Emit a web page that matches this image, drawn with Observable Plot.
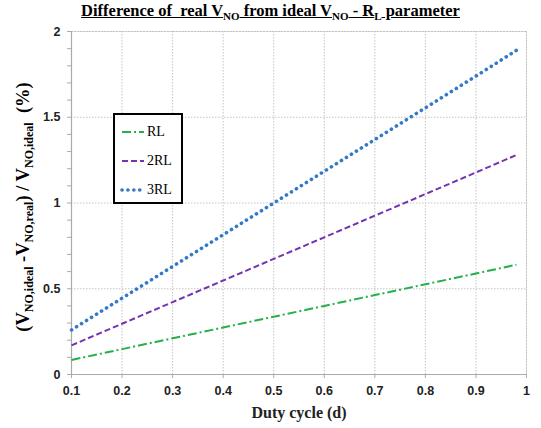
<!DOCTYPE html>
<html><head><meta charset="utf-8">
<script src="https://cdn.jsdelivr.net/npm/d3@7"></script>
<script src="https://cdn.jsdelivr.net/npm/@observablehq/plot@0.6"></script>
<style>
body{margin:0;background:#fff;}
#wrap{position:relative;width:541px;height:428px;overflow:hidden;}
#title{position:absolute;left:0;width:541px;top:1px;text-align:center;font:bold 16.5px "Liberation Serif",serif;text-decoration:underline;white-space:nowrap;padding-left:0px;}
#title sub{font-size:11px;}
#ylab{position:absolute;left:25px;top:207px;transform:translate(-50%,-50%) rotate(-90deg);font:bold 18.5px "Liberation Serif",serif;white-space:nowrap;}
#ylab sub{font-size:12px;}
#legend{position:absolute;left:113px;top:113px;width:66px;height:87px;border:2px solid #000;background:#fff;font:14px "Liberation Serif",serif;}
.li{position:absolute;left:5px;display:flex;align-items:center;}
.li svg{margin-right:3px;}
</style></head>
<body><div id="wrap">
<div id="title">Difference of&nbsp; real V<sub>NO</sub> from ideal V<sub>NO</sub> - R<sub>L</sub> parameter</div>
<div id="ylab">(V<sub>NO,ideal</sub> -V<sub>NO,real</sub>) / V<sub>NO,ideal</sub>&nbsp; (%)</div>
</div>
<script>
const duty = [0.1,0.2,0.3,0.4,0.5,0.6,0.7,0.8,0.9,0.98];
const rl   = [0.085,0.148,0.211,0.274,0.337,0.400,0.463,0.526,0.589,0.640];
const rl2  = [0.170,0.296,0.422,0.548,0.674,0.800,0.926,1.052,1.178,1.280];
const rl3  = [0.260,0.445,0.630,0.815,1.000,1.185,1.370,1.555,1.740,1.890];
const seriesNames = ["RL","2RL","3RL"];
const xTicks = [0.1,0.2,0.3,0.4,0.5,0.6,0.7,0.8,0.9,1];
const xTickLabels = ["0.1","0.2","0.3","0.4","0.5","0.6","0.7","0.8","0.9","1"];
const yTicks = [0,0.5,1,1.5,2];
const yTickLabels = ["0","0.5","1","1.5","2"];
const yMinor = d3.range(0,21).map(i=>i/10);

const styles = {
  "RL": {stroke:"#25b04a", dash:"9,3,2,3", width:2, cap:"butt"},
  "2RL": {stroke:"#7434b0", dash:"6,3", width:2, cap:"butt"},
  "3RL": {stroke:"#3479c6", dash:"0.1,5.8", width:3.6, cap:"round"}
};
const vals = {"RL":rl,"2RL":rl2,"3RL":rl3};
const data = seriesNames.map(s => duty.map((d,i)=>({d, v: vals[s][i], s})));

const gridC = "#c4c4c4";
const tickFont = {fontWeight:"bold", fontSize:12.5, fill:"#222", fontFamily:"Liberation Sans, Arial, sans-serif", label:null};

const chart = Plot.plot({
  width:541, height:428,
  marginTop:31, marginBottom:54, marginLeft:71, marginRight:15,
  x:{domain:[0.1,1]},
  y:{domain:[0,2]},
  style:{background:"transparent", overflow:"visible"},
  marks: [
    Plot.gridX(xTicks, {stroke:gridC, strokeOpacity:1, strokeDasharray:"1.5,1.5", strokeWidth:1}),
    Plot.gridY(yTicks, {stroke:gridC, strokeOpacity:1, strokeDasharray:"1.5,1.5", strokeWidth:1}),
    Plot.frame({anchor:"top", stroke:gridC, strokeDasharray:"1.5,1.5"}),
    Plot.frame({anchor:"right", stroke:gridC, strokeDasharray:"1.5,1.5"}),
    Plot.axisY(yMinor, {tickSize:4, stroke:"#aaa", tickFormat:()=>"", label:null}),
    Plot.axisX(xTicks, {tickSize:4, stroke:"#aaa", tickPadding:8, tickFormat:d=>xTickLabels[xTicks.indexOf(d)], ...tickFont}),
    Plot.axisY(yTicks, {tickSize:0, tickPadding:11, tickFormat:d=>yTickLabels[yTicks.indexOf(d)], ...tickFont}),
    Plot.ruleX([0.1], {stroke:"#aaa", strokeWidth:1.2}),
    Plot.ruleY([0], {stroke:"#aaa", strokeWidth:1.2}),
    ...data.map(arr => {
      const st = styles[arr[0].s];
      return Plot.line(arr, {x:"d", y:"v", stroke:st.stroke, strokeWidth:st.width, strokeDasharray:st.dash, strokeLinecap:st.cap});
    }),
    Plot.text(["Duty cycle (d)"], {frameAnchor:"bottom", dy:43, fontWeight:"bold", fontSize:16, fontFamily:"Liberation Serif, serif", fill:"#222"})
  ]
});
document.getElementById("wrap").prepend(chart);
chart.style.position="absolute"; chart.style.left="0"; chart.style.top="0";

const leg = document.createElement("div");
leg.id = "legend";
const ys = [17, 46, 75];
seriesNames.forEach((s,i)=>{
  const st = styles[s];
  const item = document.createElement("div");
  item.className="li"; item.style.top=(ys[i]-9)+"px";
  item.innerHTML = `<svg width="24" height="18"><line x1="2" y1="9" x2="24" y2="9" stroke="${st.stroke}" stroke-width="${st.width}" stroke-dasharray="${st.dash}" stroke-linecap="${st.cap}"/></svg><span>${s}</span>`;
  leg.appendChild(item);
});
document.getElementById("wrap").appendChild(leg);
</script>
</body></html>
